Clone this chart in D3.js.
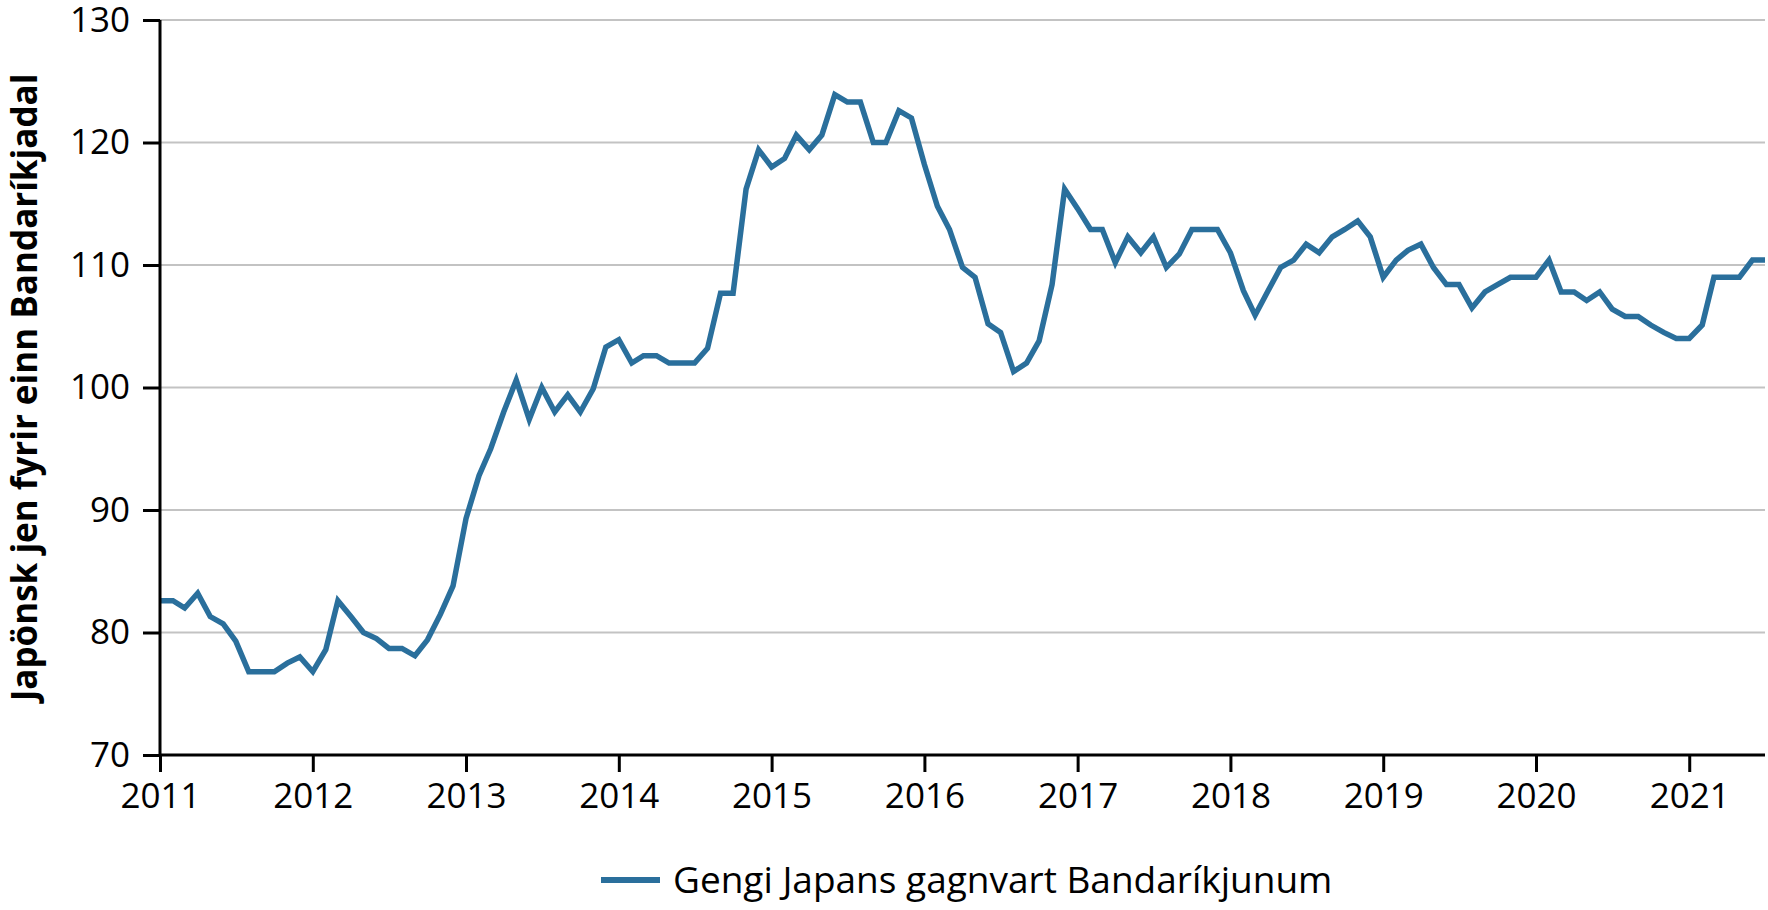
<!DOCTYPE html>
<html lang="is">
<head>
<meta charset="UTF-8" />
<script src="https://d3js.org/d3.v7.min.js"></script>
<style type="text/css">
  body { margin: 0; background: #fff; }
  svg { display: block; font-family: "Open Sans", "Noto Sans", sans-serif; }
  .grid line { stroke: #c3c3c3; stroke-width: 2; }
  .axis path, .axis line { stroke: #000; stroke-width: 3; }
  .axis text { font-family: "Open Sans", "Noto Sans", sans-serif; font-size: 35px; fill: #000; }
</style>
<title>Gengi Japans</title>
</head>
<body>
<script type="text/javascript">
// Monthly yen per US dollar (Jan 2011 - Jul 2021)
var years = [2011, 2012, 2013, 2014, 2015, 2016, 2017, 2018, 2019, 2020, 2021];
var yen2011 = [82.6, 82.6, 82.0, 83.2, 81.3, 80.7, 79.3, 76.8, 76.8, 76.8, 77.5, 78.0];
var yen2012 = [76.8, 78.6, 82.6, 81.3, 80.0, 79.5, 78.7, 78.7, 78.1, 79.4, 81.5, 83.8];
var yen2013 = [89.3, 92.8, 95.0, 98.0, 100.6, 97.4, 100.0, 98.0, 99.4, 98.0, 99.9, 103.3];
var yen2014 = [103.9, 102.0, 102.6, 102.6, 102.0, 102.0, 102.0, 103.2, 107.7, 107.7, 116.2, 119.4];
var yen2015 = [118.0, 118.7, 120.6, 119.4, 120.6, 123.9, 123.3, 123.3, 120.0, 120.0, 122.6, 122.0];
var yen2016 = [118.2, 114.8, 112.9, 109.8, 109.0, 105.2, 104.5, 101.3, 102.0, 103.8, 108.4, 116.2];
var yen2017 = [114.6, 112.9, 112.9, 110.2, 112.3, 111.0, 112.3, 109.8, 110.9, 112.9, 112.9, 112.9];
var yen2018 = [111.0, 107.9, 105.9, 107.9, 109.8, 110.4, 111.7, 111.0, 112.3, 112.9, 113.6, 112.3];
var yen2019 = [109.0, 110.4, 111.2, 111.7, 109.8, 108.4, 108.4, 106.5, 107.8, 108.4, 109.0, 109.0];
var yen2020 = [109.0, 110.4, 107.8, 107.8, 107.1, 107.8, 106.4, 105.8, 105.8, 105.1, 104.5, 104.0];
var yen2021 = [104.0, 105.1, 109.0, 109.0, 109.0, 110.4, 110.4];
var yTicks = [70, 80, 90, 100, 110, 120, 130];
var seriesName = "Gengi Japans gagnvart Bandaríkjunum";
var yTitle = "Japönsk jen fyrir einn Bandaríkjadal";

var byYear = [yen2011, yen2012, yen2013, yen2014, yen2015, yen2016,
              yen2017, yen2018, yen2019, yen2020, yen2021];

// Flatten into {date, value}
var data = [];
byYear.forEach(function(vals, i) {
  vals.forEach(function(v, m) {
    data.push({ date: new Date(years[i], m, 1), value: v });
  });
});

var W = 1768, H = 910;
var pLeft = 160, pRight = 1765, pTop = 20, pBottom = 755;
var blue = "#2a6f9c";

var svg = d3.select("body").append("svg")
    .attr("width", W)
    .attr("height", H);

var xScale = d3.scaleTime()
    .domain([data[0].date, data[data.length - 1].date])
    .range([pLeft, pRight]);

var yScale = d3.scaleLinear()
    .domain([70, 130])
    .range([pBottom, pTop]);

// Horizontal gridlines
svg.append("g")
   .attr("class", "grid")
   .selectAll("line")
   .data(yTicks.slice(1))
   .enter()
   .append("line")
   .attr("x1", pLeft)
   .attr("x2", pRight)
   .attr("y1", function(d) { return yScale(d); })
   .attr("y2", function(d) { return yScale(d); });

// The line
var line = d3.line()
    .x(function(d) { return xScale(d.date); })
    .y(function(d) { return yScale(d.value); });

svg.append("path")
   .datum(data)
   .attr("fill", "none")
   .attr("stroke", blue)
   .attr("stroke-width", 5.5)
   .attr("stroke-linejoin", "miter")
   .attr("d", line);

// Y axis
svg.append("g")
   .attr("class", "axis")
   .attr("transform", "translate(" + pLeft + ",0)")
   .call(d3.axisLeft(yScale).tickValues(yTicks).tickSize(17).tickPadding(13).tickSizeOuter(0))
   .call(function(g) { g.select(".domain").attr("d", "M0," + pTop + "V" + pBottom); });

// X axis
svg.append("g")
   .attr("class", "axis")
   .attr("transform", "translate(0," + pBottom + ")")
   .call(d3.axisBottom(xScale)
           .tickValues(years.map(function(y) { return new Date(y, 0, 1); }))
           .tickFormat(d3.timeFormat("%Y"))
           .tickSize(17).tickPadding(11).tickSizeOuter(0))
   .call(function(g) { g.select(".domain").attr("d", "M" + pLeft + ",0H" + pRight); });

// Y title
svg.append("text")
   .attr("transform", "translate(37," + ((pTop + pBottom) / 2) + ") rotate(-90)")
   .attr("text-anchor", "middle")
   .attr("font-size", "35px")
   .attr("font-weight", "bold")
   .text(yTitle);

// Legend
var lg = svg.append("g").attr("transform", "translate(601,880)");
lg.append("line")
  .attr("x1", 0).attr("x2", 59)
  .attr("stroke", blue)
  .attr("stroke-width", 6);
lg.append("text")
  .attr("x", 72)
  .attr("dy", "0.35em")
  .attr("font-size", "37px")
  .text(seriesName);
</script>
</body>
</html>
